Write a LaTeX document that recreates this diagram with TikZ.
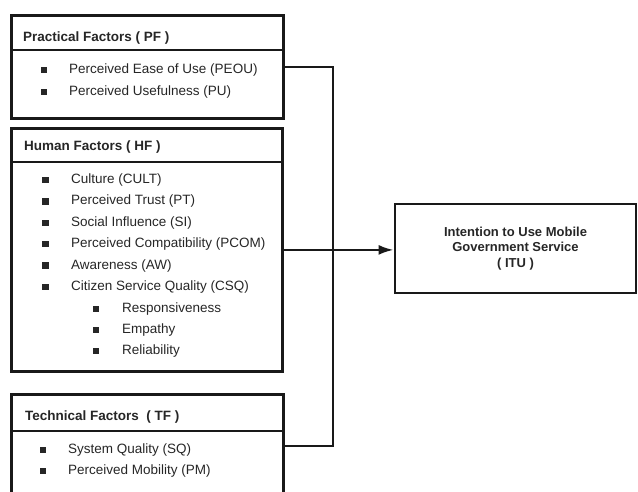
\documentclass[tikz,border=0pt]{standalone}
\usepackage{fontspec}
\setmainfont{Liberation Sans}
\usetikzlibrary{arrows.meta}

\begin{document}
\begin{tikzpicture}[x=1pt,y=-1pt,
    font=\fontsize{13.5}{16}\selectfont,
    factor/.style={draw=black!90,line width=2.8pt,anchor=north west,inner sep=0},
    head/.style={anchor=west,inner sep=0,text=black!85,
      font=\fontsize{13.5}{16}\selectfont\bfseries},
    item/.style={anchor=west,inner sep=0,text=black!85},
    bul/.style={fill=black!85,minimum size=6.5pt,inner sep=0},
    link/.style={draw=black!90,line width=2.4pt}]
  \useasboundingbox (0,0) rectangle (638,491);
  % factor boxes
  \node[factor,minimum width=272pt,minimum height=103pt] (pf) at (10,14) {};
  \node[factor,minimum width=271pt,minimum height=243pt] (hf) at (10,127) {};
  \node[factor,minimum width=272pt,minimum height=103pt] (tf) at (10,393) {};
  \draw[draw=black!90,line width=2.8pt] (pf.west |- 0,50) -- (pf.east |- 0,50);
  \draw[draw=black!90,line width=2.8pt] (hf.west |- 0,162) -- (hf.east |- 0,162);
  \draw[draw=black!90,line width=2.8pt] (tf.west |- 0,431) -- (tf.east |- 0,431);
  \node[head] (pfh) at (23,38) {Practical Factors ( PF )};
  \node[head] (hfh) at (24,147) {Human Factors ( HF )};
  \node[head] (tfh) at (25,417) {Technical Factors \ ( TF )};
  % items
  \foreach \t [count=\i from 0] in {Perceived Ease of Use (PEOU),
      Perceived Usefulness (PU)} {
    \node[bul] (pfb\i) at (44,{70+22*\i}) {};
    \node[item] (pfi\i) at (69,{70+22*\i}) {\t};
  }
  \foreach \t [count=\i from 0] in {Culture (CULT), Perceived Trust (PT),
      Social Influence (SI), Perceived Compatibility (PCOM), Awareness (AW),
      Citizen Service Quality (CSQ)} {
    \node[bul] (hfb\i) at (45.5,{180+21.4*\i}) {};
    \node[item] (hfi\i) at (71,{180+21.4*\i}) {\t};
  }
  \foreach \t [count=\i from 0] in {Responsiveness, Empathy, Reliability} {
    \node[bul] (csqb\i) at (96,{309+21*\i}) {};
    \node[item] (csqi\i) at (122,{309+21*\i}) {\t};
  }
  \foreach \t [count=\i from 0] in {System Quality (SQ),
      Perceived Mobility (PM)} {
    \node[bul] (tfb\i) at (43,{450+21*\i}) {};
    \node[item] (tfi\i) at (68,{450+21*\i}) {\t};
  }
  % outcome
  \node[draw=black!90,line width=2.8pt,minimum width=241pt,minimum height=89pt,
    align=center,text=black!85,
    font=\fontsize{13}{15.5}\selectfont\bfseries] (itu) at (515.5,248.5)
    {Intention to Use Mobile\\Government Service\\( ITU )};
  % connectors
  \coordinate (bus) at (333,0);
  \draw[link] (pf.east) -| (bus |- tf.east) -- (tf.east);
  \draw[link,-{Latex[length=15pt,width=10pt]}] (hf.east) -- (hf.east -| itu.west);
\end{tikzpicture}
\end{document}
